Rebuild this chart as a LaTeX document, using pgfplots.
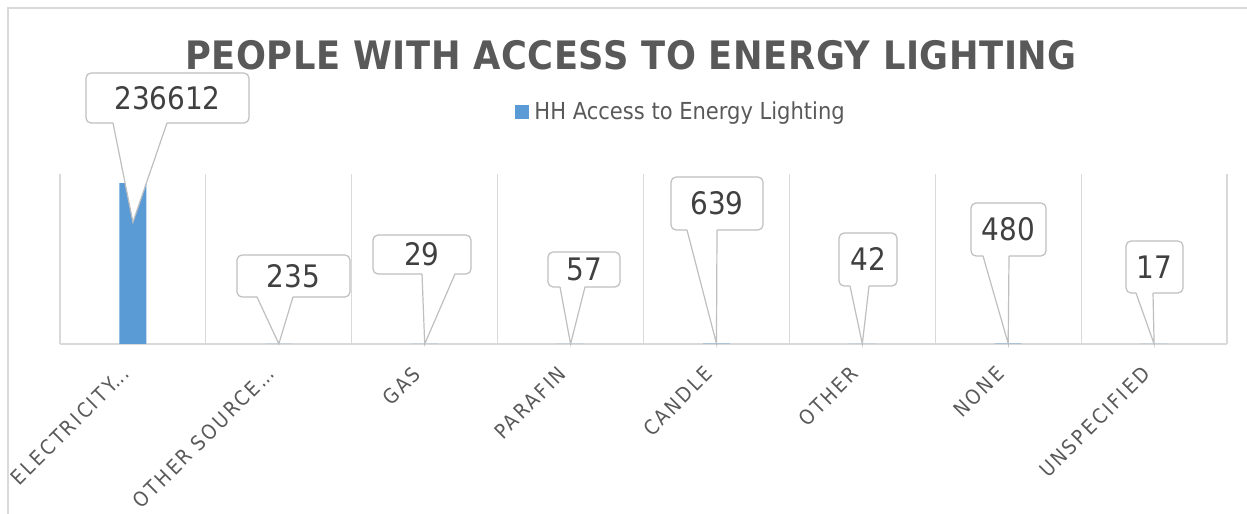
\documentclass[border=0pt]{standalone}
\usepackage{pgfplots}
\pgfplotsset{compat=1.18}
\usepackage{fontspec}
\setmainfont{DejaVu Sans Condensed}
\newfontfamily\titlefont[LetterSpace=1.5]{DejaVu Sans Condensed}
\newfontfamily\lblfont[LetterSpace=12]{DejaVu Sans Condensed}
\definecolor{barblue}{HTML}{5B9BD5}
\definecolor{txtgray}{HTML}{595959}
\definecolor{numgray}{HTML}{404040}
\definecolor{gridgray}{HTML}{D9D9D9}
\definecolor{callgray}{HTML}{BFBFBF}

% box left, top, right, bottom (px from top-left), wedge base a, b, tip, text
\newcommand\callout[8]{%
  \draw[callgray, line width=0.6bp, fill=white, rounded corners=2.5bp]
    (#1,514-#2) rectangle (#3,514-#4);
  \fill[white] (#5,514-#4+1.4) -- (#7) -- (#6,514-#4+1.4) -- cycle;
  \draw[callgray, line width=0.6bp] (#5,514-#4) -- (#7) -- (#6,514-#4);
  \node[text=numgray, inner sep=0pt, font=\fontsize{15.5bp}{18bp}\selectfont]
    at ({(#1+#3)/2},{514-(#2+#4)/2}) {#8};
}
\newcommand\dotz{.\kern0pt.\kern0pt.}

\begin{document}
\begin{tikzpicture}[x=0.5bp, y=0.5bp]
\path[use as bounding box] (0,0) rectangle (1247,514);
\draw[gridgray, line width=0.6bp] (8,0) -- (8,506) -- (1247,506);

\node[anchor=base, inner sep=0pt, text=txtgray,
  font=\titlefont\bfseries\fontsize{19.6bp}{24bp}\selectfont] at (631,444)
  {PEOPLE WITH ACCESS TO ENERGY LIGHTING};

\fill[barblue] (515,409) rectangle (529,395);
\node[anchor=base west, inner sep=0pt, text=txtgray,
  font=\fontsize{11.7bp}{14bp}\selectfont] at (534,394) {HH Access to Energy Lighting};

\begin{scope}[xshift=30bp, yshift=85bp]
\begin{axis}[
  anchor=south west,
  scale only axis, width=583.5bp, height=85bp,
  ybar, bar width=13.5bp,
  xmin=-0.5, xmax=7.5, ymin=0, ymax=250000,
  axis y line=none, axis x line*=bottom,
  x axis line style={gridgray, line width=0.6bp},
  xtick={0,1,2,3,4,5,6,7},
  xticklabels={ELECTRICITY\dotz,OTHER SOURCE\dotz,GAS,PARAFIN,CANDLE,OTHER,NONE,UNSPECIFIED},
  major tick length=0pt,
  extra x ticks={-0.5,0.5,1.5,2.5,3.5,4.5,5.5,6.5,7.5},
  extra x tick labels={},
  extra x tick style={grid=major, major grid style={gridgray, line width=0.6bp}},
  x tick label style={font=\lblfont\fontsize{10.2bp}{12bp}\selectfont, text=txtgray,
    rotate=45, anchor=north east, inner sep=0pt, xshift=-12bp, yshift=-2.5bp},
  ytick=\empty,
]
\addplot[fill=barblue, draw=none] coordinates
  {(0,236612) (1,235) (2,29) (3,57) (4,639) (5,42) (6,480) (7,17)};
\coordinate (t0) at (axis cs:0,236612);
\coordinate (t1) at (axis cs:1,235);
\coordinate (t2) at (axis cs:2,29);
\coordinate (t3) at (axis cs:3,57);
\coordinate (t4) at (axis cs:4,639);
\coordinate (t5) at (axis cs:5,42);
\coordinate (t6) at (axis cs:6,480);
\coordinate (t7) at (axis cs:7,17);
\end{axis}
\end{scope}

\callout{86}{73}{249}{123}{113}{167}{[yshift=-19.5bp]t0}{236612}
\callout{237}{255}{350}{297}{257}{293}{t1}{235}
\callout{373}{235}{471}{274}{422}{455}{t2}{29}
\callout{548}{252}{620}{287}{560}{585}{t3}{57}
\callout{671}{177}{763}{230}{687}{717}{t4}{639}
\callout{839}{233}{897}{286}{850}{869}{t5}{42}
\callout{971}{203}{1046}{256}{983}{1009}{t6}{480}
\callout{1126}{241}{1183}{293}{1136}{1153}{t7}{17}
\end{tikzpicture}
\end{document}
